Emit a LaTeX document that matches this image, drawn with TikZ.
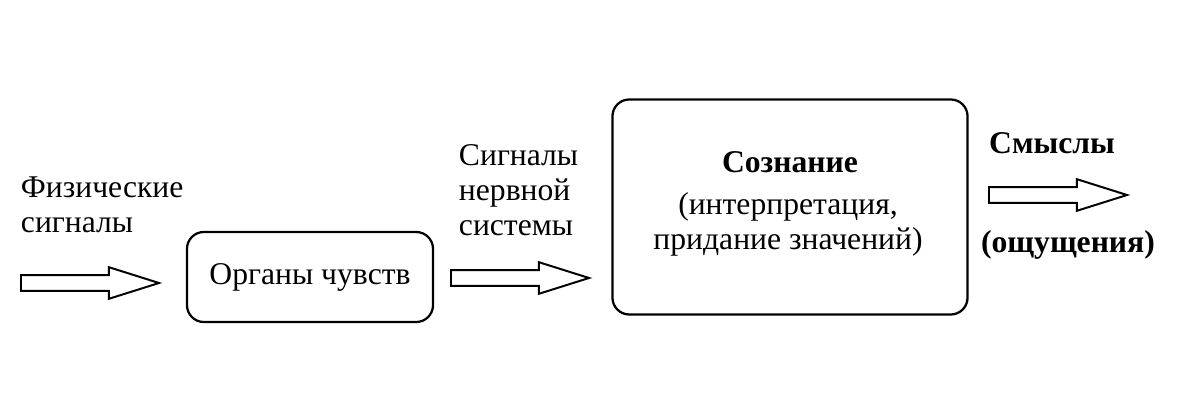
\documentclass[tikz,border=0pt]{standalone}
\usepackage{fontspec}
\setmainfont{Liberation Serif}
\usetikzlibrary{shapes.arrows}
\tikzset{
  blockbox/.style={draw, line width=1.6pt, rounded corners=12pt, align=center},
  hollowarrow/.style={single arrow, draw, line width=1.4pt, inner sep=0.17cm,
    minimum height=3.45cm, single arrow head extend=0.2cm,
    single arrow tip angle=35, anchor=tail},
  caption/.style={align=left, anchor=west},
}
\begin{document}
\begin{tikzpicture}[x=0.025cm, y=-0.025cm, font=\fontsize{22.5}{25}\selectfont]
  \useasboundingbox (0,0) rectangle (1200,411);
  \node[blockbox, minimum width=6.15cm, minimum height=2.25cm] (Organs) at (310,277) {Органы чувств};
  \node[blockbox, minimum width=8.875cm, minimum height=5.375cm] (Mind) at (790,207) {};
  \node (MindTitle) at (790,162) {\bfseries Сознание};
  \node[align=center] (MindText) at (788,224) {(интерпретация,\\придание значений)};
  \node[hollowarrow] (In) at (20,283) {};
  \node[hollowarrow] (Nerve) at (450,278) {};
  \node[hollowarrow] (Out) at (988,195) {};
  \node[caption] (Phys) at (16,205) {Физические\\сигналы};
  \node[caption] (NerveText) at (454,190) {Сигналы\\нервной\\системы};
  \node (Sense) at (1052,143) {\bfseries Смыслы};
  \node (Feel) at (1068,245) {\bfseries (ощущения)};
\end{tikzpicture}
\end{document}
